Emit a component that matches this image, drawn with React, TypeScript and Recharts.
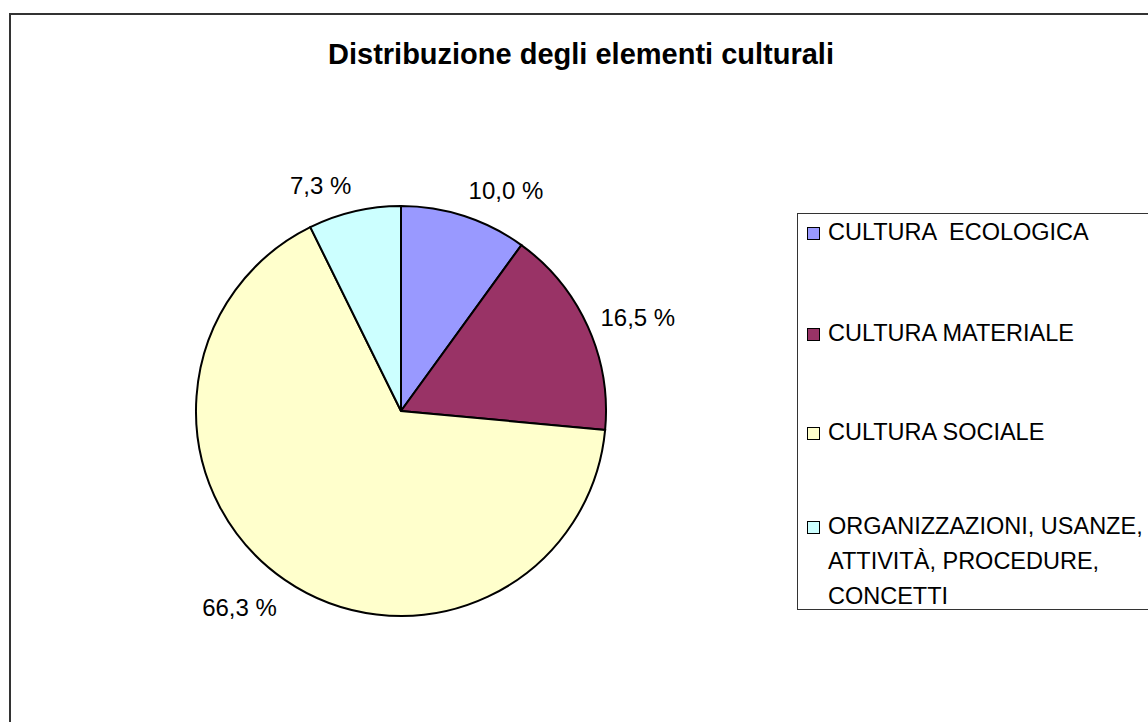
import React from "react";
import { PieChart, Pie, Cell, Legend } from "recharts";

const categories = [
  "CULTURA  ECOLOGICA",
  "CULTURA MATERIALE",
  "CULTURA SOCIALE",
  "ORGANIZZAZIONI, USANZE, ATTIVITÀ, PROCEDURE, CONCETTI",
];
const shares = [10.0, 16.5, 66.3, 7.3];
const COLORS = ["#9999FF", "#993366", "#FFFFCC", "#CCFFFF"];

const FONT = '"Liberation Sans", Arial, sans-serif';
const RADIAN = Math.PI / 180;

const chartData = categories.map((name, i) => ({ name, value: shares[i] }));

const renderLabel = (props: any) => {
  const { cx, cy, midAngle, outerRadius, value } = props;
  const cos = Math.cos(-midAngle * RADIAN);
  const sin = Math.sin(-midAngle * RADIAN);
  const x = cx + (outerRadius + 14) * cos;
  const y = cy + (outerRadius + 30) * sin + 3;
  return (
    <text
      x={x}
      y={y}
      fill="#000"
      fontSize={24}
      fontFamily={FONT}
      textAnchor={cos >= 0 ? "start" : "end"}
      dominantBaseline="central"
    >
      {value.toFixed(1).replace(".", ",") + " %"}
    </text>
  );
};

// space above each legend entry
const gaps = [1, 66, 64, 59];

const LegendBox = () => (
  <div
    style={{
      border: "1px solid #333",
      height: 397,
      width: 400,
      boxSizing: "border-box",
      fontFamily: FONT,
      fontSize: 23.5,
      color: "#000",
    }}
  >
    {categories.map((c, i) => (
      <div
        key={c}
        style={{ display: "flex", alignItems: "flex-start", marginTop: gaps[i] }}
      >
        <span
          style={{
            display: "inline-block",
            width: 11,
            height: 11,
            background: COLORS[i],
            border: "1px solid #000",
            marginLeft: 9,
            marginRight: 8,
            marginTop: 12,
            flexShrink: 0,
          }}
        />
        <span style={{ whiteSpace: "pre-wrap", lineHeight: "35px", width: 325 }}>
          {c}
        </span>
      </div>
    ))}
  </div>
);

export default function App() {
  return (
    <div
      style={{
        position: "fixed",
        left: 0,
        top: 0,
        width: 1148,
        height: 722,
        overflow: "hidden",
        background: "#fff",
      }}
    >
      <div
        style={{
          position: "absolute",
          left: 9,
          top: 13,
          width: 1144,
          height: 760,
          border: "2px solid #333",
          boxSizing: "border-box",
        }}
      />
      <div
        style={{
          position: "absolute",
          left: 11,
          top: 40,
          width: 1140,
          textAlign: "center",
          fontFamily: FONT,
          fontWeight: "bold",
          fontSize: 29,
          lineHeight: "29px",
          color: "#000",
        }}
      >
        Distribuzione degli elementi culturali
      </div>
      <div style={{ position: "absolute", left: 0, top: 0 }}>
        <PieChart width={1148} height={722} margin={{ top: 0, right: 0, bottom: 0, left: 0 }}>
          <Pie
            data={chartData}
            dataKey="value"
            nameKey="name"
            cx={401}
            cy={411}
            outerRadius={205}
            startAngle={90}
            endAngle={-270}
            stroke="#000"
            strokeWidth={2}
            label={renderLabel}
            labelLine={false}
            isAnimationActive={false}
          >
            {chartData.map((_, index) => (
              <Cell key={index} fill={COLORS[index]} />
            ))}
          </Pie>
          <Legend
            content={() => <LegendBox />}
            wrapperStyle={{ left: 797, top: 213, width: 400, bottom: "auto" }}
          />
        </PieChart>
      </div>
    </div>
  );
}
